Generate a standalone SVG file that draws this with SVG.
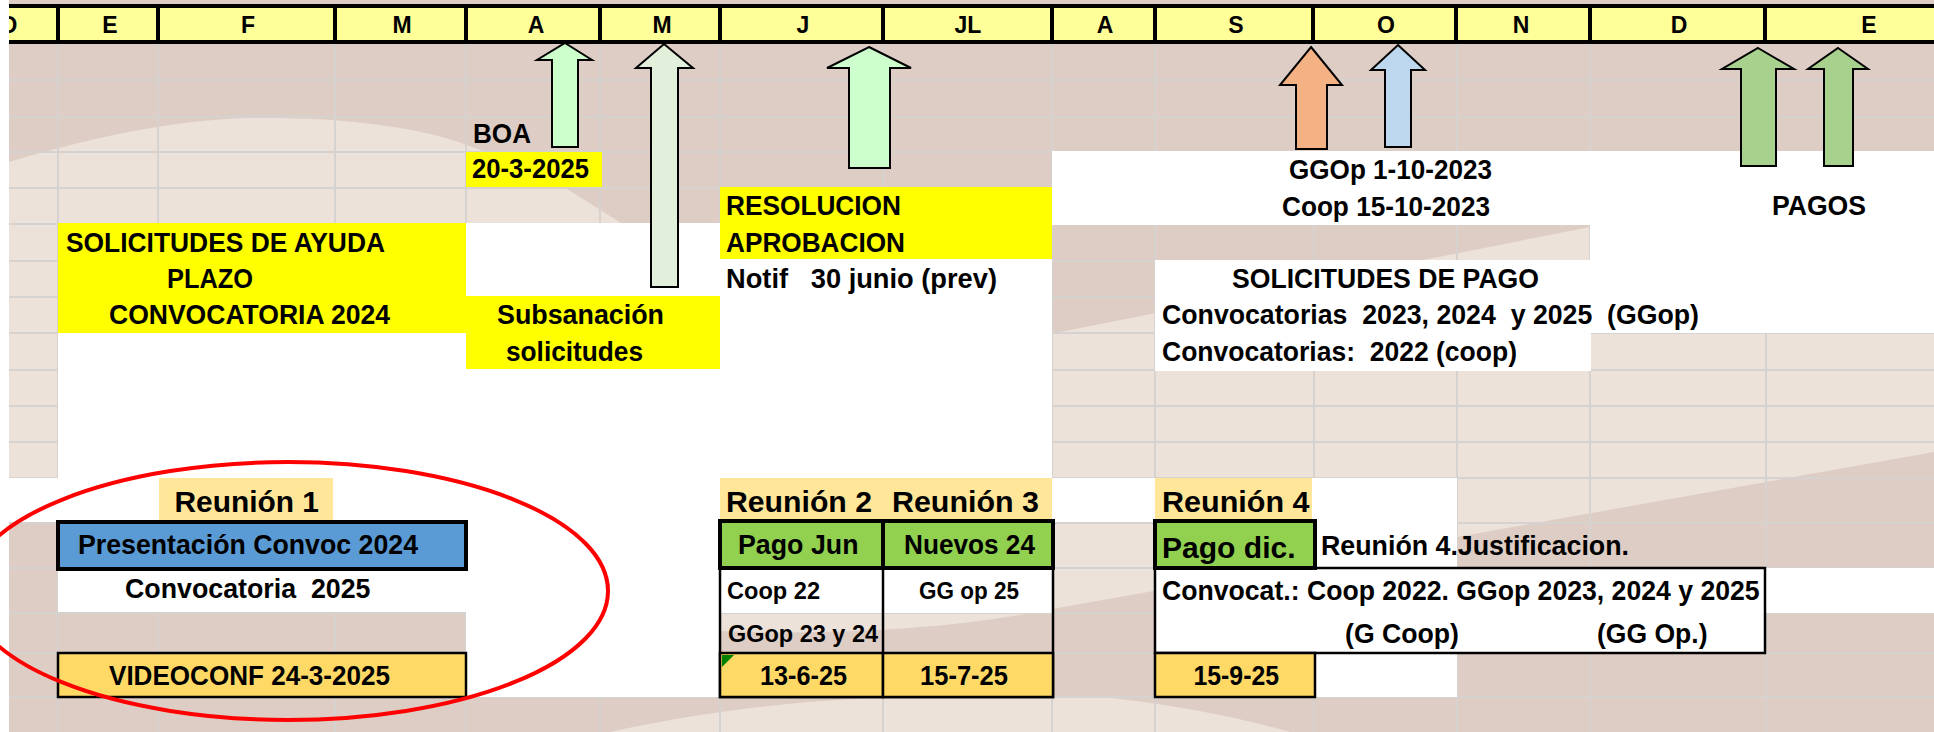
<svg xmlns="http://www.w3.org/2000/svg" width="1934" height="732" viewBox="0 0 1934 732">
<style>
.t{font-family:"Liberation Sans",Arial,sans-serif;font-weight:bold;fill:#000;font-size:27px;white-space:pre}
.h{font-size:23px;text-anchor:middle}
.s{font-size:24px}
.r{font-size:30px}
.d{font-size:28px}
.big{font-size:30px}
.grid line{stroke:#D6D2CF;stroke-width:2}
.arrow{stroke:#000;stroke-width:2}
.w{fill:#FFFFFF}
.y{fill:#FFFF00}
.lab{fill:#FFE699}
.grn{fill:#92D050;stroke:#000;stroke-width:4}
.date{fill:#FFD966;stroke:#000;stroke-width:2.5}
.box{fill:none;stroke:#000;stroke-width:2.5}
</style>
<defs>
<clipPath id="clipL"><rect x="9" y="0" width="1925" height="732"/></clipPath>
</defs>

<g id="background">
<rect x="0" y="0" width="1934" height="732" fill="#FFFFFF"/>
<rect x="9" y="0" width="1925" height="732" fill="#DECDC4"/>
<path d="M9,162 C90,138 170,120 250,118 C330,117 420,124 480,150 L564,187 L621,223 L1055,333 L1590,227 L1934,160 L1934,452 L1457,537 L1052,609 C900,640 700,640 466,610 C300,560 150,470 9,478 Z" fill="#ECE2D9"/>
<path d="M610,732 C690,714 790,700 900,697 L1100,697 C1180,705 1240,718 1290,732 Z" fill="#ECE2D9"/>
</g>

<g id="grid" class="grid">
<line x1="58" y1="42" x2="58" y2="732"/><line x1="158" y1="42" x2="158" y2="732"/>
<line x1="335" y1="42" x2="335" y2="732"/><line x1="466" y1="42" x2="466" y2="732"/>
<line x1="600" y1="42" x2="600" y2="732"/><line x1="720" y1="42" x2="720" y2="732"/>
<line x1="883" y1="42" x2="883" y2="732"/><line x1="1052" y1="42" x2="1052" y2="732"/>
<line x1="1155" y1="42" x2="1155" y2="732"/><line x1="1314" y1="42" x2="1314" y2="732"/>
<line x1="1457" y1="42" x2="1457" y2="732"/><line x1="1590" y1="42" x2="1590" y2="732"/>
<line x1="1766" y1="42" x2="1766" y2="732"/>
<line x1="9" y1="80" x2="1934" y2="80"/><line x1="9" y1="117" x2="1934" y2="117"/>
<line x1="9" y1="152" x2="1934" y2="152"/><line x1="9" y1="188" x2="1934" y2="188"/>
<line x1="9" y1="224" x2="1934" y2="224"/><line x1="9" y1="261" x2="1934" y2="261"/>
<line x1="9" y1="297" x2="1934" y2="297"/><line x1="9" y1="333" x2="1934" y2="333"/>
<line x1="9" y1="370" x2="1934" y2="370"/><line x1="9" y1="406" x2="1934" y2="406"/>
<line x1="9" y1="442" x2="1934" y2="442"/><line x1="9" y1="478" x2="1934" y2="478"/>
<line x1="9" y1="523" x2="1934" y2="523"/><line x1="9" y1="568" x2="1934" y2="568"/>
<line x1="9" y1="613" x2="1934" y2="613"/><line x1="9" y1="653" x2="1934" y2="653"/>
<line x1="9" y1="697" x2="1934" y2="697"/>
</g>

<g id="cells">
<rect class="w" x="1052" y="151" width="882" height="74"/>
<rect class="w" x="1590" y="225" width="344" height="108"/>
<rect class="w" x="1155" y="260" width="436" height="111"/>
<rect class="w" x="58" y="223" width="994" height="255"/>
<rect class="w" x="9" y="478" width="1146" height="44"/>
<rect class="w" x="1312" y="478" width="145" height="90"/>
<rect class="w" x="58" y="522" width="662" height="90"/>
<rect class="w" x="466" y="612" width="254" height="85"/>
<rect class="w" x="720" y="568" width="333" height="45"/>
<rect class="w" x="1155" y="568" width="610" height="85"/>
<rect class="w" x="1765" y="568" width="169" height="45"/>
<rect class="w" x="1315" y="653" width="142" height="44"/>
</g>

<g id="header">
<rect x="9" y="6" width="1925" height="36" fill="#FFFF99"/>
<line x1="9" y1="6" x2="1934" y2="6" stroke="#000" stroke-width="4"/>
<line x1="9" y1="42" x2="1934" y2="42" stroke="#000" stroke-width="4"/>
<g stroke="#000" stroke-width="4">
<line x1="58" y1="6" x2="58" y2="42"/><line x1="158" y1="6" x2="158" y2="42"/>
<line x1="335" y1="6" x2="335" y2="42"/><line x1="466" y1="6" x2="466" y2="42"/>
<line x1="600" y1="6" x2="600" y2="42"/><line x1="720" y1="6" x2="720" y2="42"/>
<line x1="883" y1="6" x2="883" y2="42"/><line x1="1052" y1="6" x2="1052" y2="42"/>
<line x1="1155" y1="6" x2="1155" y2="42"/><line x1="1313" y1="6" x2="1313" y2="42"/>
<line x1="1456" y1="6" x2="1456" y2="42"/><line x1="1590" y1="6" x2="1590" y2="42"/>
<line x1="1765" y1="6" x2="1765" y2="42"/>
</g>
<g clip-path="url(#clipL)"><text class="t h" x="9" y="33">D</text></g>
<text class="t h" x="110" y="33">E</text>
<text class="t h" x="248" y="33">F</text>
<text class="t h" x="402" y="33">M</text>
<text class="t h" x="536" y="33">A</text>
<text class="t h" x="662" y="33">M</text>
<text class="t h" x="803" y="33">J</text>
<text class="t h" x="968" y="33">JL</text>
<text class="t h" x="1105" y="33">A</text>
<text class="t h" x="1236" y="33">S</text>
<text class="t h" x="1386" y="33">O</text>
<text class="t h" x="1521" y="33">N</text>
<text class="t h" x="1679" y="33">D</text>
<text class="t h" x="1869" y="33">E</text>
</g>

<g id="boa">
<text class="t" x="473" y="143" textLength="58" lengthAdjust="spacingAndGlyphs">BOA</text>
<rect class="y" x="466" y="152" width="136" height="35"/>
<text class="t" x="472" y="178" textLength="117" lengthAdjust="spacingAndGlyphs">20-3-2025</text>
</g>

<g id="solicitudes-ayuda">
<rect class="y" x="58" y="223" width="408" height="110"/>
<text class="t" x="66" y="252" textLength="319" lengthAdjust="spacingAndGlyphs">SOLICITUDES DE AYUDA</text>
<text class="t" x="167" y="288" textLength="86" lengthAdjust="spacingAndGlyphs">PLAZO</text>
<text class="t" x="109" y="324" textLength="281" lengthAdjust="spacingAndGlyphs">CONVOCATORIA 2024</text>
</g>

<g id="subsanacion">
<rect class="y" x="466" y="296" width="254" height="73"/>
<text class="t" x="497" y="324" textLength="167" lengthAdjust="spacingAndGlyphs">Subsanación</text>
<text class="t" x="506" y="361" textLength="137" lengthAdjust="spacingAndGlyphs">solicitudes</text>
</g>

<g id="resolucion">
<rect class="y" x="720" y="187" width="332" height="72"/>
<text class="t" x="726" y="215" textLength="175" lengthAdjust="spacingAndGlyphs">RESOLUCION</text>
<text class="t" x="726" y="252" textLength="179" lengthAdjust="spacingAndGlyphs">APROBACION</text>
<text class="t" x="726" y="288" textLength="271" lengthAdjust="spacingAndGlyphs">Notif   30 junio (prev)</text>
</g>

<g id="fechas-pago">
<text class="t" x="1289" y="179" textLength="203" lengthAdjust="spacingAndGlyphs">GGOp 1-10-2023</text>
<text class="t" x="1282" y="216" textLength="208" lengthAdjust="spacingAndGlyphs">Coop 15-10-2023</text>
</g>

<g id="pagos">
<text class="t" x="1772" y="215" textLength="94" lengthAdjust="spacingAndGlyphs">PAGOS</text>
</g>

<g id="solicitudes-pago">
<text class="t" x="1232" y="288" textLength="307" lengthAdjust="spacingAndGlyphs">SOLICITUDES DE PAGO</text>
<text class="t" x="1162" y="324" textLength="537" lengthAdjust="spacingAndGlyphs">Convocatorias  2023, 2024  y 2025  (GGop)</text>
<text class="t" x="1162" y="361" textLength="355" lengthAdjust="spacingAndGlyphs">Convocatorias:  2022 (coop)</text>
</g>

<g id="reunion1">
<rect class="lab" x="159" y="478" width="174" height="42"/>
<text class="t r" x="174.5" y="512" textLength="144.5" lengthAdjust="spacingAndGlyphs">Reunión 1</text>
<rect x="58" y="522" width="408" height="47" fill="#5B9BD5" stroke="#000" stroke-width="4"/>
<text class="t" x="78" y="554" textLength="340" lengthAdjust="spacingAndGlyphs">Presentación Convoc 2024</text>
<text class="t" x="125" y="598" textLength="245.5" lengthAdjust="spacingAndGlyphs">Convocatoria  2025</text>
<rect class="date" x="58" y="653" width="408" height="44" stroke-width="3"/>
<text class="t d" x="109" y="685" textLength="281" lengthAdjust="spacingAndGlyphs">VIDEOCONF 24-3-2025</text>
</g>

<g id="reunion2-3">
<rect class="lab" x="720" y="478" width="332" height="42"/>
<text class="t r" x="726" y="512" textLength="146" lengthAdjust="spacingAndGlyphs">Reunión 2</text>
<text class="t r" x="892" y="512" textLength="147" lengthAdjust="spacingAndGlyphs">Reunión 3</text>
<rect class="box" x="720" y="521" width="333" height="176"/>
<line x1="883" y1="568" x2="883" y2="697" stroke="#000" stroke-width="2.5"/>
<rect class="grn" x="720" y="521" width="163" height="47"/>
<rect class="grn" x="883" y="521" width="170" height="47"/>
<text class="t" x="738" y="554" textLength="120.5" lengthAdjust="spacingAndGlyphs">Pago Jun</text>
<text class="t" x="904" y="554" textLength="131" lengthAdjust="spacingAndGlyphs">Nuevos 24</text>
<text class="t s" x="727" y="599" textLength="93" lengthAdjust="spacingAndGlyphs">Coop 22</text>
<text class="t s" x="919" y="599" textLength="100" lengthAdjust="spacingAndGlyphs">GG op 25</text>
<text class="t s" x="728" y="642" textLength="150" lengthAdjust="spacingAndGlyphs">GGop 23 y 24</text>
<rect class="date" x="720" y="653" width="163" height="44"/>
<rect class="date" x="883" y="653" width="170" height="44"/>
<polygon points="722,655 734,655 722,667" fill="#008000"/>
<text class="t d" x="760" y="685" textLength="87" lengthAdjust="spacingAndGlyphs">13-6-25</text>
<text class="t d" x="920" y="685" textLength="88" lengthAdjust="spacingAndGlyphs">15-7-25</text>
</g>

<g id="reunion4">
<rect class="lab" x="1155" y="478" width="157" height="42"/>
<text class="t r" x="1162" y="512" textLength="147.6" lengthAdjust="spacingAndGlyphs">Reunión 4</text>
<rect class="grn" x="1155" y="521" width="160" height="47"/>
<text class="t big" x="1162" y="558" textLength="133.6" lengthAdjust="spacingAndGlyphs">Pago dic.</text>
<text class="t" x="1321" y="555" textLength="308" lengthAdjust="spacingAndGlyphs">Reunión 4.Justificacion.</text>
<rect class="box" x="1155" y="568" width="610" height="85"/>
<text class="t" x="1162" y="600" textLength="597.6" lengthAdjust="spacingAndGlyphs">Convocat.: Coop 2022. GGop 2023, 2024 y 2025</text>
<text class="t" x="1345" y="643" textLength="114" lengthAdjust="spacingAndGlyphs">(G Coop)</text>
<text class="t" x="1597" y="643" textLength="110.5" lengthAdjust="spacingAndGlyphs">(GG Op.)</text>
<rect class="date" x="1155" y="653" width="160" height="44"/>
<text class="t d" x="1193.5" y="685" textLength="85.5" lengthAdjust="spacingAndGlyphs">15-9-25</text>
</g>

<g id="connectors">
<polygon class="arrow" fill="#CCFFCC" points="565,43 592,60 578,60 578,147 552,147 552,60 537,60"/>
<polygon class="arrow" fill="#E2EFDA" points="664,44 693,68 678,68 678,287 651,287 651,68 636,68"/>
<polygon class="arrow" fill="#CCFFCC" points="869,47 911,68 890,68 890,168 849,168 849,68 827,68"/>
<polygon class="arrow" fill="#F4B183" points="1311,47 1342,85 1327,85 1327,149 1296,149 1296,85 1280,85"/>
<polygon class="arrow" fill="#BDD7EE" points="1398,45 1425,70 1411,70 1411,147 1385,147 1385,70 1371,70"/>
<polygon class="arrow" fill="#A9D18E" points="1758,48 1794,69 1776,69 1776,166 1741,166 1741,69 1722,69"/>
<polygon class="arrow" fill="#A9D18E" points="1838,48 1868,69 1853,69 1853,166 1824,166 1824,69 1808,69"/>
</g>

<g id="highlight">
<ellipse cx="288" cy="591" rx="320" ry="129" fill="none" stroke="#FF0000" stroke-width="4"/>
</g>
</svg>
